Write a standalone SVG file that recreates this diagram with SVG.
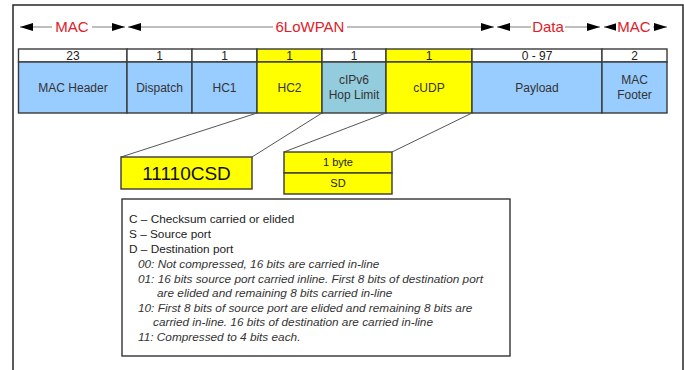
<svg xmlns="http://www.w3.org/2000/svg" width="684" height="370" viewBox="0 0 684 370">
  <style>
    .cell { stroke: #3a3a3a; stroke-width: 1.4; }
    .blue { fill: #99ccff; }
    .yellow { fill: #ffff00; }
    .teal { fill: #93cddd; }
    .white { fill: #ffffff; }
    .num { font-family: "Liberation Sans", Arial, sans-serif; font-size: 12px; fill: #222; text-anchor: middle; }
    .small { font-family: "Liberation Sans", Arial, sans-serif; font-size: 11px; fill: #222; text-anchor: middle; }
    .lbl { font-family: "Liberation Sans", Arial, sans-serif; font-size: 12px; fill: #333; text-anchor: middle; }
    .span { font-family: "Liberation Sans", Arial, sans-serif; font-size: 15px; fill: #e0202a; text-anchor: middle; }
    .spanline { stroke: #7f7f7f; stroke-width: 1.2; fill: none; marker-start: url(#head); marker-end: url(#head); }
    .gap { fill: #ffffff; }
    .link { stroke: #555; stroke-width: 1; fill: none; }
    .leg { font-family: "Liberation Sans", Arial, sans-serif; font-size: 11.8px; fill: #222; }
    .legi { font-family: "Liberation Sans", Arial, sans-serif; font-size: 11.8px; fill: #333; font-style: italic; }
  </style>
  <defs>
    <marker id="head" viewBox="0 0 13 8" refX="13" refY="4" markerWidth="13" markerHeight="8" markerUnits="userSpaceOnUse" orient="auto-start-reverse">
      <path d="M0,0 L13,4 L0,8 Z" fill="#000"/>
    </marker>
  </defs>

  <!-- outer frame -->
  <rect x="13" y="5" width="670" height="400" fill="#fff" stroke="#333" stroke-width="1.6"/>

  <!-- span arrows above the frame layout -->
  <g id="spans">
    <line class="spanline" x1="20" y1="27" x2="125" y2="27"/>
    <rect class="gap" x="52" y="18" width="40" height="18"/>
    <text class="span" x="72" y="32">MAC</text>

    <line class="spanline" x1="128" y1="27" x2="494" y2="27"/>
    <rect class="gap" x="273" y="18" width="74" height="18"/>
    <text class="span" x="310" y="32">6LoWPAN</text>

    <line class="spanline" x1="497" y1="27" x2="600" y2="27"/>
    <rect class="gap" x="531" y="18" width="34" height="18"/>
    <text class="span" x="548" y="32">Data</text>

    <line class="spanline" x1="604" y1="27" x2="667" y2="27"/>
    <rect class="gap" x="616" y="18" width="37" height="18"/>
    <text class="span" x="634" y="32">MAC</text>
  </g>

  <!-- frame fields: size row and field row -->
  <g id="mac-header">
    <rect class="cell white" x="18.5" y="49" width="108.5" height="13"/>
    <text class="num" x="73" y="60">23</text>
    <rect class="cell blue" x="18.5" y="62" width="108.5" height="51"/>
    <text class="lbl" x="73" y="92">MAC Header</text>
  </g>
  <g id="dispatch">
    <rect class="cell white" x="127" y="49" width="65" height="13"/>
    <text class="num" x="159.5" y="60">1</text>
    <rect class="cell blue" x="127" y="62" width="65" height="51"/>
    <text class="lbl" x="159.5" y="92">Dispatch</text>
  </g>
  <g id="hc1">
    <rect class="cell white" x="192" y="49" width="65" height="13"/>
    <text class="num" x="224.5" y="60">1</text>
    <rect class="cell blue" x="192" y="62" width="65" height="51"/>
    <text class="lbl" x="224.5" y="92">HC1</text>
  </g>
  <g id="hc2">
    <rect class="cell yellow" x="257" y="49" width="65" height="13"/>
    <text class="num" x="289.5" y="60">1</text>
    <rect class="cell yellow" x="257" y="62" width="65" height="51"/>
    <text class="lbl" x="289.5" y="92">HC2</text>
  </g>
  <g id="cipv6-hop-limit">
    <rect class="cell white" x="322" y="49" width="64" height="13"/>
    <text class="num" x="354" y="60">1</text>
    <rect class="cell teal" x="322" y="62" width="64" height="51"/>
    <text class="lbl" x="354" y="84">cIPv6</text>
    <text class="lbl" x="354" y="99">Hop Limit</text>
  </g>
  <g id="cudp">
    <rect class="cell yellow" x="386" y="49" width="86" height="13"/>
    <text class="num" x="429" y="60">1</text>
    <rect class="cell yellow" x="386" y="62" width="86" height="51"/>
    <text class="lbl" x="429" y="92">cUDP</text>
  </g>
  <g id="payload">
    <rect class="cell white" x="472" y="49" width="130" height="13"/>
    <text class="num" x="537" y="60">0 - 97</text>
    <rect class="cell blue" x="472" y="62" width="130" height="51"/>
    <text class="lbl" x="537" y="92">Payload</text>
  </g>
  <g id="mac-footer">
    <rect class="cell white" x="602" y="49" width="65" height="13"/>
    <text class="num" x="634.5" y="60">2</text>
    <rect class="cell blue" x="602" y="62" width="65" height="51"/>
    <text class="lbl" x="634.5" y="84">MAC</text>
    <text class="lbl" x="634.5" y="99">Footer</text>
  </g>

  <!-- expansion lines -->
  <g id="connectors">
    <line class="link" x1="257" y1="113" x2="121" y2="157"/>
    <line class="link" x1="322" y1="113" x2="252" y2="157"/>
    <line class="link" x1="386" y1="113" x2="284" y2="152"/>
    <line class="link" x1="472" y1="113" x2="392" y2="152"/>
  </g>

  <g id="hc2-bits">
    <rect class="cell yellow" x="121" y="157" width="131" height="32"/>
    <text x="186.5" y="180" font-family="Liberation Sans, Arial, sans-serif" font-size="19" fill="#111" text-anchor="middle">11110CSD</text>
  </g>

  <g id="cudp-bits">
    <rect class="cell yellow" x="284" y="152" width="108" height="21"/>
    <text class="small" x="338" y="166">1 byte</text>
    <rect class="cell yellow" x="284" y="173" width="108" height="21"/>
    <text class="small" x="338" y="187">SD</text>
  </g>

  <g id="legend">
    <rect x="122" y="199" width="388" height="157" fill="#fff" stroke="#333" stroke-width="1.4"/>
    <text class="leg" x="129" y="223">C – Checksum carried or elided</text>
    <text class="leg" x="129" y="238">S – Source port</text>
    <text class="leg" x="129" y="253">D – Destination port</text>
    <text class="legi" x="138" y="268">00: Not compressed, 16 bits are carried in-line</text>
    <text class="legi" x="138" y="283">01: 16 bits source port carried inline. First 8 bits of destination port</text>
    <text class="legi" x="157" y="297">are elided and remaining 8 bits carried in-line</text>
    <text class="legi" x="138" y="312">10: First 8 bits of source port are elided and remaining 8 bits are</text>
    <text class="legi" x="153" y="326">carried in-line. 16 bits of destination are carried in-line</text>
    <text class="legi" x="138" y="341">11: Compressed to 4 bits each.</text>
  </g>
</svg>
